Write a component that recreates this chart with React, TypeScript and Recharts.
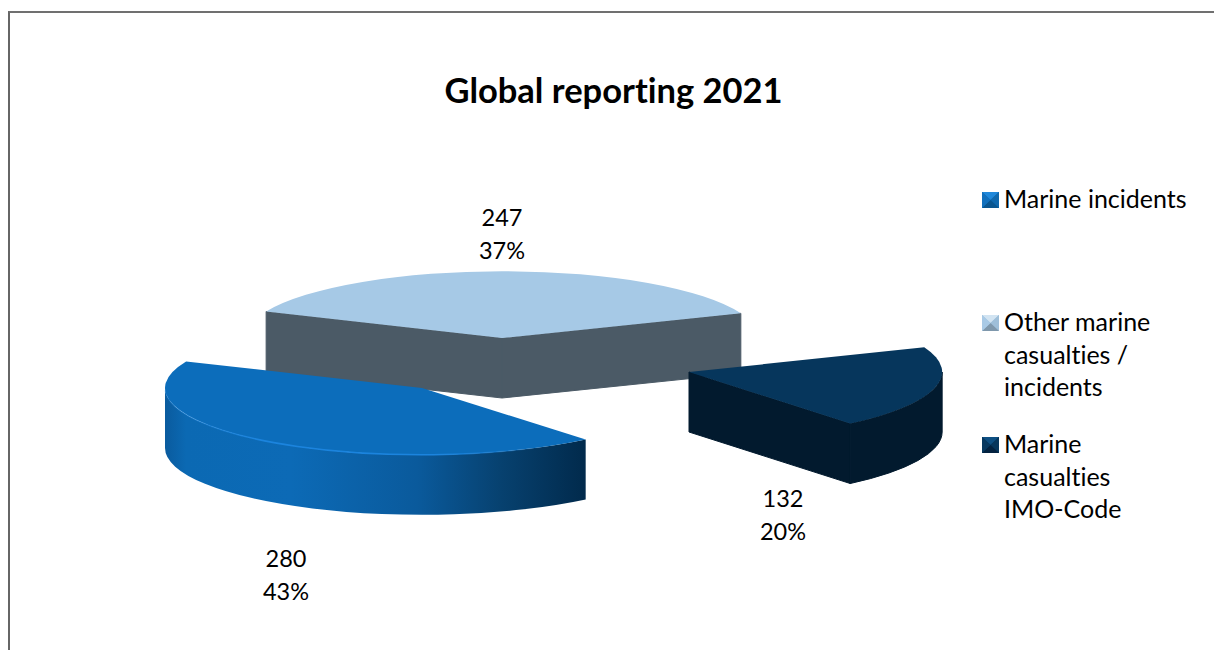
import { PieChart, Pie, Legend } from 'recharts'

// Clockwise from the top of the pie, which is also back-to-front paint order
const categories = ['Other marine casualties / incidents', 'Marine casualties IMO-Code', 'Marine incidents']
const counts = [247, 132, 280]
const percents = [37, 20, 43]

// Legend reads in the workbook's order, wrapped the way the box wraps it
const legendOrder = [2, 0, 1]
const legendLines = [
  ['Other marine', 'casualties /', 'incidents'],
  ['Marine', 'casualties', 'IMO-Code'],
  ['Marine incidents'],
]
const legendTops = [0, 123, 245]

const topColors = ['#a6c9e6', '#06365c', '#0c6dbb']
const wallColors = ['#4b5a66', '#021a2e', '#0b6ab5']

// top, right, bottom, left facets of the legend's bevelled squares
const markFacets = [
  ['#d2e4f2', '#9fbfd9', '#7f98ac', '#a9cae6'],
  ['#0e4f82', '#06365c', '#032240', '#07385f'],
  ['#2088da', '#0f68ad', '#0a5690', '#1170bd'],
]

// Each slice is pulled out of the pie by its own offset
const explodeX = [0, 187, -80]
const explodeY = [-27, 7, 23]
const sliceScale = [1, 0.985, 1]
const labelX = [0, 281, -216]
const labelY = [-139, 142, 202]

const PIE_CX = 502
const PIE_CY = 365
const RADIUS = 257
const SQUASH = 0.26
const DEPTH = 60
const FONT = 'Lato, sans-serif'

const data = categories.map((name, i) => ({ name, count: counts[i], percent: percents[i] }))

// Recharts angles run counter-clockwise from 3 o'clock, here they run clockwise from 12
const fromTop = (angle: number) => ((90 - angle) % 360 + 360) % 360

function Slice3D(props: any) {
  const { cx, cy, startAngle, endAngle, outerRadius, index } = props
  const a1 = fromTop(startAngle)
  const a2 = a1 + Math.abs(endAngle - startAngle)
  const ax = cx + explodeX[index]
  const ay = cy + explodeY[index]
  const rx = outerRadius * sliceScale[index]
  const ry = outerRadius * SQUASH
  const px = (deg: number) => ax + rx * Math.sin((deg * Math.PI) / 180)
  const py = (deg: number) => ay - ry * Math.cos((deg * Math.PI) / 180)
  const arc = (from: number, to: number, sweep: number, dy = 0) =>
    `A${rx} ${ry} 0 ${Math.abs(to - from) > 180 ? 1 : 0} ${sweep} ${px(to)} ${py(to) + dy}`

  const walls: any[] = []
  // Radial cut faces that turn toward the viewer
  const radial = (deg: number, key: string) => (
    <path
      key={key}
      d={`M${ax} ${ay}L${px(deg)} ${py(deg)}L${px(deg)} ${py(deg) + DEPTH}L${ax} ${ay + DEPTH}Z`}
      fill={wallColors[index]}
      stroke={wallColors[index]}
      strokeWidth={1}
    />
  )
  if (Math.sin((a1 * Math.PI) / 180) < 0) walls.push(radial(a1, 'start'))
  if (Math.sin((a2 * Math.PI) / 180) > 0) walls.push(radial(a2, 'end'))

  // Rim wall, only the front half of the ellipse can be seen
  const from = Math.max(a1, 90)
  const to = Math.min(a2, 270)
  const shaded = index === 2
  if (to > from) {
    walls.push(
      <path
        key="rim"
        d={`M${px(from)} ${py(from)}${arc(from, to, 1)}L${px(to)} ${py(to) + DEPTH}${arc(to, from, 0, DEPTH)}Z`}
        fill={shaded ? 'url(#rimShade)' : wallColors[index]}
        stroke={shaded ? 'none' : wallColors[index]}
        strokeWidth={1}
      />,
    )
  }

  return (
    <g>
      {shaded && (
        <defs>
          <linearGradient id="rimShade" x1="0" y1="0" x2="1" y2="0">
            <stop offset="0" stopColor="#0a5b9e" />
            <stop offset="0.05" stopColor="#0b69b3" />
            <stop offset="0.3" stopColor="#0c6ab6" />
            <stop offset="0.6" stopColor="#0a5a9c" />
            <stop offset="0.8" stopColor="#07416f" />
            <stop offset="1" stopColor="#012a4c" />
          </linearGradient>
          <linearGradient id="rimGlow" x1="0" y1="0" x2="1" y2="0">
            <stop offset="0" stopColor="#1b84de" stopOpacity="0.2" />
            <stop offset="0.25" stopColor="#1b84de" />
            <stop offset="0.7" stopColor="#1b84de" />
            <stop offset="1" stopColor="#1b84de" stopOpacity="0" />
          </linearGradient>
        </defs>
      )}
      {walls}
      <path
        d={`M${ax} ${ay}L${px(a1)} ${py(a1)}${arc(a1, a2, 1)}Z`}
        fill={topColors[index]}
      />
      {shaded && (
        <path
          d={`M${px(150)} ${py(150)}${arc(150, 268, 1)}`}
          fill="none"
          stroke="url(#rimGlow)"
          strokeWidth={1.5}
        />
      )}
    </g>
  )
}

function SliceLabel(props: any) {
  const { cx, cy, index } = props
  const x = cx + labelX[index]
  const y = cy + labelY[index]
  return (
    <text x={x} y={y} textAnchor="middle" fontFamily={FONT} fontSize={23.5} fill="#000">
      <tspan x={x} dy={0}>{counts[index]}</tspan>
      <tspan x={x} dy={32.5}>{percents[index]}%</tspan>
    </text>
  )
}

function LegendMark({ facets }: { facets: string[] }) {
  const [up, right, down, left] = facets
  return (
    <svg width={17} height={16} style={{ position: 'absolute', left: 0, top: 10 }}>
      {/* underlay hides the hairlines between the facets */}
      <rect width={17} height={16} fill={right} />
      <polygon points="0,0 17,0 8.5,8" fill={up} />
      <polygon points="17,0 17,16 8.5,8" fill={right} />
      <polygon points="0,16 17,16 8.5,8" fill={down} />
      <polygon points="0,0 0,16 8.5,8" fill={left} />
    </svg>
  )
}

function LegendBox() {
  return (
    <div style={{ position: 'relative', width: 232, height: 360, fontFamily: FONT, fontSize: 25, lineHeight: '32.5px', color: '#000', fontVariantLigatures: 'none' }}>
      {legendOrder.map((i, row) => (
        <div key={i} style={{ position: 'absolute', left: 0, top: legendTops[row] }}>
          <LegendMark facets={markFacets[i]} />
          <div style={{ marginLeft: 22, whiteSpace: 'nowrap' }}>
            {legendLines[i].map((line) => (
              <div key={line}>{line}</div>
            ))}
          </div>
        </div>
      ))}
    </div>
  )
}

export default function App() {
  return (
    <div style={{ position: 'absolute', left: 0, top: 0, width: 1214, height: 650, background: '#fff', overflow: 'hidden' }}>
      {/* frame runs off the right and bottom of the page */}
      <div style={{ position: 'absolute', left: 8, top: 11, width: 1300, height: 700, borderTop: '2px solid #707070', borderLeft: '2px solid #666' }} />
      <div style={{ position: 'absolute', left: 0, top: 68, width: 1227, textAlign: 'center', fontFamily: FONT, fontWeight: 700, fontSize: 34.5, lineHeight: '44px', color: '#000', fontVariantLigatures: 'none' }}>
        Global reporting 2021
      </div>
      <PieChart width={1214} height={650} margin={{ top: 0, right: 0, bottom: 0, left: 0 }} style={{ position: 'absolute', left: 0, top: 0 }}>
        <Pie
          data={data}
          dataKey="count"
          nameKey="name"
          cx={PIE_CX}
          cy={PIE_CY}
          outerRadius={RADIUS}
          startAngle={156.6}
          endAngle={-203.4}
          paddingAngle={0}
          stroke="none"
          isAnimationActive={false}
          shape={Slice3D}
          label={SliceLabel}
          labelLine={false}
        />
        <Legend
          content={<LegendBox />}
          layout="vertical"
          align="right"
          verticalAlign="top"
          wrapperStyle={{ left: 982, top: 182, width: 232 }}
        />
      </PieChart>
    </div>
  )
}
